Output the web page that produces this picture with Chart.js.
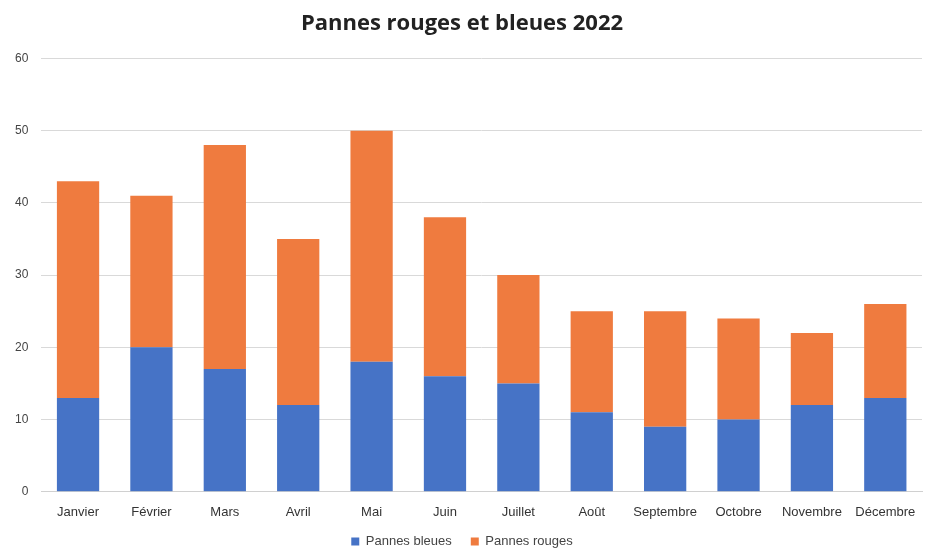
<!DOCTYPE html>
<html>
<head>
<meta charset="utf-8">
<script src="https://cdn.jsdelivr.net/npm/chart.js@4/dist/chart.umd.min.js"></script>
<style>
html,body{margin:0;padding:0;background:#fff;overflow:hidden;}
#wrap{width:926px;height:549px;overflow:hidden;}
</style>
</head>
<body>
<div id="wrap"><canvas id="c" width="926" height="558"></canvas></div>
<script>
const categories = ["Janvier","Février","Mars","Avril","Mai","Juin","Juillet","Août","Septembre","Octobre","Novembre","Décembre"];
const pannesBleues = [13,20,17,12,18,16,15,11,9,10,12,13];
const pannesRouges = [30,21,31,23,32,22,15,14,16,14,10,13];
const yTicks = [0,10,20,30,40,50,60];

new Chart(document.getElementById('c'), {
  type: 'bar',
  data: {
    labels: categories,
    datasets: [
      {label: 'Pannes bleues', data: pannesBleues, backgroundColor: '#4673c6', barPercentage: 0.9, categoryPercentage: 0.64},
      {label: 'Pannes rouges', data: pannesRouges, backgroundColor: '#ef7b3f', barPercentage: 0.9, categoryPercentage: 0.64}
    ]
  },
  options: {
    responsive: false,
    animation: false,
    layout: {padding: {left: 2, right: 4, top: 8, bottom: 0}},
    plugins: {
      title: {display: true, text: 'Pannes rouges et bleues 2022', color: '#222', font: {family: 'Open Sans', size: 22, weight: 'bold'}, padding: {top: 3, bottom: 21}},
      legend: {position: 'bottom', labels: {boxWidth: 8, boxHeight: 8, padding: 6, color: '#444', font: {family: 'Liberation Sans', size: 13},
        generateLabels: (chart) => {
          const items = Chart.defaults.plugins.legend.labels.generateLabels(chart);
          items.forEach((it, i) => { if (i < items.length - 1) it.text = it.text + '\u2002\u2002'; });
          return items;
        }}},
      tooltip: {enabled: false}
    },
    scales: {
      x: {stacked: true, grid: {display: false}, border: {color: '#d0d0d0'}, ticks: {color: '#333', font: {family: 'Liberation Sans', size: 13}, padding: 5, maxRotation: 0},
          title: {display: true, text: ' ', font: {size: 3}, padding: 0}},
      y: {stacked: true, min: 0, max: 60, afterBuildTicks: (ax) => { ax.ticks = yTicks.map(v => ({value: v})); },
          grid: {color: '#d9d9d9', drawTicks: false}, border: {display: false},
          ticks: {color: '#444', font: {family: 'Liberation Sans', size: 12}, padding: 13}}
    }
  }
});
</script>
</body>
</html>
